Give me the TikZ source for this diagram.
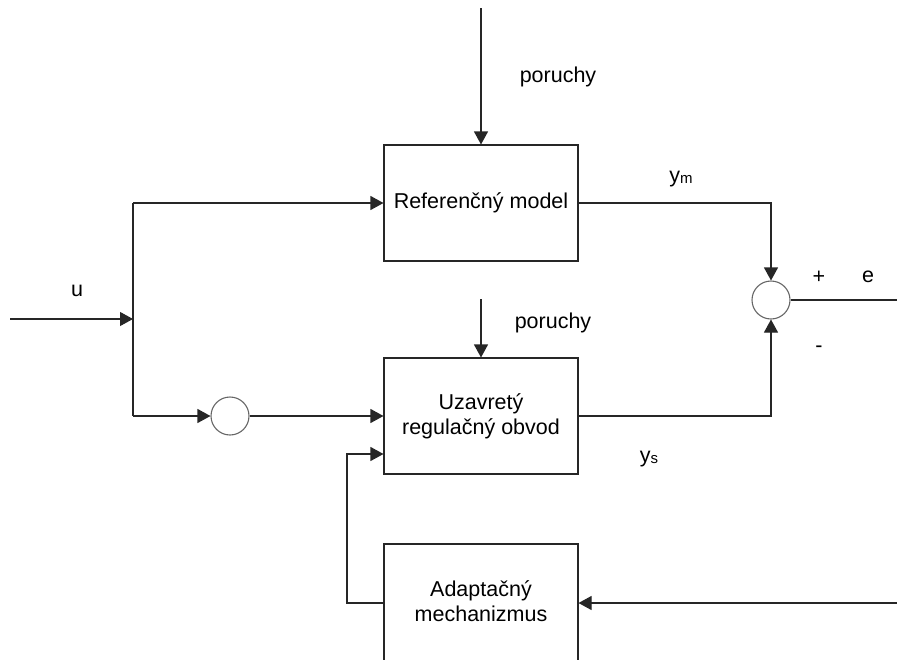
\documentclass[tikz,border=0pt]{standalone}
\usepackage{fontspec}
\setmainfont{Liberation Sans}
\usetikzlibrary{arrows.meta}
\begin{document}
\begin{tikzpicture}[x=1pt,y=-1pt,
  wire/.style={draw=black!85,line width=1.1pt},
  arr/.style={wire,-{Triangle[length=13pt,width=14pt]}},
  blockbox/.style={draw=black!85,line width=1.1pt,rectangle,minimum width=194pt,align=center,font=\fontsize{21.5}{25}\selectfont,inner sep=0pt},
  sumnode/.style={draw=black!60,line width=1.1pt,circle,minimum size=38pt,inner sep=0pt},
  lbl/.style={font=\fontsize{21.5}{25}\selectfont,inner sep=0pt}]
\useasboundingbox (0,0) rectangle (897,659);
\node[blockbox,minimum height=116pt] (ref) at (481,203) {Referenčný model};
\node[blockbox,minimum height=116pt] (uz) at (481,416) {Uzavretý\\regulačný obvod};
\node[blockbox,minimum height=118pt] (ad) at (481,603) {};
\node[lbl,align=center] (adt) at (481,601) {Adaptačný\\mechanizmus};
\node[sumnode] (s1) at (771,300) {};
\node[sumnode] (s2) at (230,416) {};
\coordinate (top) at (481,8);
\coordinate (p2) at (481,299);
\coordinate (split) at (133,319);
\coordinate (in) at (10,319);
\coordinate (st) at (133,203);
\coordinate (sb) at (133,416);
\coordinate (eout) at (897,300);
\coordinate (adin) at (897,603);
\coordinate (fb) at (347,454);
% labels
\node[lbl] (por1) at (558,77) {poruchy};
\node[lbl] (por2) at (553,323) {poruchy};
\node[lbl] (ym) at (681,179) {y\raisebox{-1pt}{\fontsize{15}{17}\selectfont m}};
\node[lbl] (ys) at (649,459) {y\raisebox{-1pt}{\fontsize{15}{17}\selectfont s}};
\node[lbl] (u) at (77,291) {u};
\node[lbl] (plus) at (819,277) {+};
\node[lbl] (e) at (868,277) {e};
\node[lbl] (minus) at (819,349) {-};
% connectors
\draw[arr] (top) -- (ref.north);
\draw[arr] (p2) -- (uz.north);
\draw[arr] (in) -- (split);
\draw[wire] (st) -- (sb);
\draw[arr] (st) -- (ref.west);
\draw[arr] (sb) -- (s2.west);
\draw[arr] (s2.east) -- (s2.east -| uz.west);
\draw[arr] (ref.east) -| (s1.north);
\draw[arr] (uz.east) -| (s1.south);
\draw[wire] (s1.east) -- (eout);
\draw[arr] (adin) -- (ad.east);
\draw[arr] (ad.west) -| (fb) -- (fb -| uz.west);
\end{tikzpicture}
\end{document}
